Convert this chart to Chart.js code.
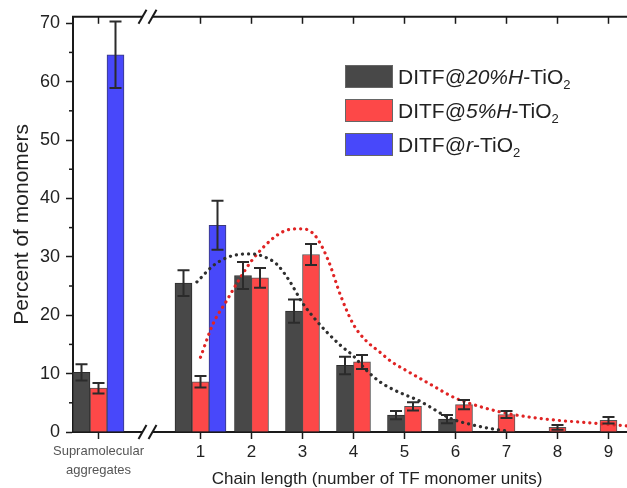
<!DOCTYPE html>
<html>
<head>
<meta charset="utf-8">
<script src="https://cdn.jsdelivr.net/npm/chart.js@4.4.0/dist/chart.umd.min.js"></script>
<style>
  html, body { margin: 0; padding: 0; background: #fff; overflow: hidden; }
  #wrap { position: relative; width: 634px; height: 488px; }
  #legend { position: absolute; left: 345px; top: 65px; font-family: "Liberation Sans", Arial, sans-serif; font-size: 21px; color: #222; }
  .row { display: flex; align-items: center; height: 23px; margin-bottom: 11px; white-space: nowrap; }
  .box { width: 46px; height: 21px; border: 1px solid #666; margin-right: 5px; }
  .row sub { font-size: 13px; vertical-align: -5px; line-height: 0; }
</style>
</head>
<body>
<div id="wrap">
  <canvas id="myChart" width="634" height="488"></canvas>
  <div id="legend"></div>
</div>
<script>
// categories on the x axis ('' is the axis break), placed at chain length -1, 0, 1 ... 9
const categories = [['Supramolecular', 'aggregates'], '', '1', '2', '3', '4', '5', '6', '7', '8', '9'];

// bar heights (percent of monomers) and error bars
const h20 = [10.2, null, 25.5, 26.8, 20.7, 11.4, 2.9, 2.2, null, null, null];
const h20Err = [1.4, null, 2.2, 2.3, 2.0, 1.5, 0.7, 0.7, null, null, null];
const h5 = [7.5, null, 8.6, 26.4, 30.4, 12.0, 4.4, 4.7, 3.0, 0.8, 2.0];
const h5Err = [0.9, null, 1.0, 1.7, 1.8, 1.2, 0.7, 0.8, 0.6, 0.4, 0.55];
const rTi = [64.6, null, 35.4, null, null, null, null, null, null, null, null];
const rTiErr = [5.7, null, 4.2, null, null, null, null, null, null, null, null];

// dotted fit curves (chain length -> percent)
const fitX20 = [0.93, 1.25, 1.5, 1.75, 2, 2.25, 2.5, 2.75, 3, 3.25, 3.5, 3.75, 4, 4.25, 4.5, 4.75, 5, 5.25, 5.5, 5.75, 6, 6.25, 6.5, 6.75, 7];
const fitY20 = [25.7, 28.5, 29.8, 30.4, 30.5, 30.0, 28.7, 25.8, 22.1, 19.3, 16.9, 14.8, 13.0, 10.6, 8.7, 7.4, 6.4, 5.5, 4.3, 3.0, 2.0, 1.4, 0.9, 0.5, 0.2];
const fitX5 = [1, 1.25, 1.5, 1.75, 2, 2.25, 2.5, 2.75, 3, 3.25, 3.5, 3.75, 4, 4.25, 4.5, 4.75, 5, 5.5, 6, 6.5, 7, 7.5, 8, 8.5, 9, 9.5];
const fitY5 = [12.8, 18.6, 22.3, 26.0, 29.3, 31.8, 33.7, 34.7, 34.8, 33.6, 29.5, 23.3, 18.4, 15.6, 13.8, 12.0, 10.7, 8.2, 5.8, 4.3, 3.2, 2.5, 2.0, 1.65, 1.3, 0.95];

const seriesNames = ['DITF@20%H-TiO2', 'DITF@5%H-TiO2', 'DITF@r-TiO2'];
const legendParts = [['DITF@', '20%H', '-TiO', '2'], ['DITF@', '5%H', '-TiO', '2'], ['DITF@', 'r', '-TiO', '2']];
const barColors = ['#484848', '#fd4848', '#4848fa'];
const yTitle = 'Percent of monomers';
const xTitle = 'Chain length (number of TF monomer units)';

const errors = [h20Err, h5Err, rTiErr];
const FONT = '"Liberation Sans", Arial, sans-serif';
const AXIS = '#1a1a1a';
const BREAK = categories.indexOf('') - 1;

function pts(xs, ys) {
    return xs.map((v, i) => ({ x: v, y: ys[i] }));
}
function bars(vals) {
    return vals.map((v, i) => ({ x: i - 1, y: v }));
}

// legend with italics and subscripts
const legend = document.getElementById('legend');
legendParts.forEach((p, i) => {
    const row = document.createElement('div');
    row.className = 'row';
    row.innerHTML = '<span class="box" style="background:' + barColors[i] + '"></span>' +
        '<span>' + p[0] + '<i>' + p[1] + '</i>' + p[2] + '<sub>' + p[3] + '</sub></span>';
    legend.appendChild(row);
});

const errorBars = {
    id: 'errorBars',
    afterDatasetsDraw(chart) {
        const { ctx, scales: { y } } = chart;
        ctx.save();
        ctx.strokeStyle = '#2b2b2b';
        ctx.lineWidth = 2;
        errors.forEach((errs, di) => {
            const meta = chart.getDatasetMeta(di);
            const vals = chart.data.datasets[di].data;
            errs.forEach((e, i) => {
                if (vals[i].y == null || e == null) return;
                const bx = meta.data[i].x;
                const t = y.getPixelForValue(vals[i].y + e);
                const b = y.getPixelForValue(vals[i].y - e);
                ctx.beginPath();
                ctx.moveTo(bx, t); ctx.lineTo(bx, b);
                ctx.moveTo(bx - 6, t); ctx.lineTo(bx + 6, t);
                ctx.moveTo(bx - 6, b); ctx.lineTo(bx + 6, b);
                ctx.stroke();
            });
        });
        ctx.restore();
    }
};

const frame = {
    id: 'frame',
    afterDraw(chart) {
        const { ctx, chartArea: a, scales: { x, y } } = chart;
        ctx.save();
        ctx.strokeStyle = AXIS;
        ctx.lineWidth = 2;
        ctx.beginPath();
        ctx.moveTo(a.left - 1, a.top);
        ctx.lineTo(a.right, a.top);
        ctx.stroke();
        ctx.lineWidth = 1.5;
        x.ticks.forEach(t => {
            if (t.value === BREAK) return;
            const px = x.getPixelForValue(t.value);
            ctx.beginPath();
            ctx.moveTo(px, a.top);
            ctx.lineTo(px, a.top + 7);
            ctx.stroke();
        });
        // minor ticks on the y axis
        y.ticks.forEach(t => {
            if (t.value % 10 === 0) return;
            const py = y.getPixelForValue(t.value);
            ctx.beginPath();
            ctx.moveTo(a.left - 4, py);
            ctx.lineTo(a.left, py);
            ctx.stroke();
        });
        // axis breaks
        const bx = x.getPixelForValue(BREAK) - 2;
        [a.top, a.bottom].forEach(py => {
            ctx.fillStyle = '#fff';
            ctx.fillRect(bx - 5, py - 2, 10, 4);
            ctx.lineWidth = 2;
            [-5, 5].forEach(d => {
                ctx.beginPath();
                ctx.moveTo(bx + d - 4, py + 7);
                ctx.lineTo(bx + d + 4, py - 7);
                ctx.stroke();
            });
        });
        ctx.fillStyle = '#222';
        ctx.font = '17px ' + FONT;
        ctx.textAlign = 'center';
        ctx.textBaseline = 'alphabetic';
        ctx.fillText(xTitle, 377, 484);
        ctx.restore();
    }
};

const data = {
    datasets: [
        { label: seriesNames[0], data: bars(h20), backgroundColor: barColors[0], borderColor: '#2e2e2e', borderWidth: 1 },
        { label: seriesNames[1], data: bars(h5), backgroundColor: barColors[1], borderColor: '#555', borderWidth: 1 },
        { label: seriesNames[2], data: bars(rTi), backgroundColor: barColors[2], borderColor: '#3a3a7a', borderWidth: 1 },
        {
            type: 'line', label: 'fit 20%', data: pts(fitX20, fitY20), order: -1,
            borderColor: '#2f2f2f', borderWidth: 3.2, borderDash: [0.1, 6], borderCapStyle: 'round',
            pointRadius: 0, cubicInterpolationMode: 'monotone', fill: false
        },
        {
            type: 'line', label: 'fit 5%', data: pts(fitX5, fitY5), order: -1,
            borderColor: '#e02424', borderWidth: 3.2, borderDash: [0.1, 6], borderCapStyle: 'round',
            pointRadius: 0, cubicInterpolationMode: 'monotone', fill: false
        }
    ]
};

const config = {
    type: 'bar',
    data: data,
    options: {
        responsive: false,
        animation: false,
        devicePixelRatio: 1,
        layout: { padding: { top: 16, right: 0, left: 0, bottom: 0 } },
        datasets: { bar: { skipNull: true, barThickness: 17 } },
        plugins: { legend: { display: false }, tooltip: { enabled: false } },
        scales: {
            x: {
                type: 'linear',
                min: -1.5, max: 9.5,
                offset: false,
                border: { color: AXIS, width: 2 },
                grid: {
                    offset: false, drawOnChartArea: false, tickLength: 7, tickWidth: 1.5,
                    tickColor: c => c.tick && c.tick.value === BREAK ? 'rgba(0,0,0,0)' : AXIS
                },
                afterBuildTicks: s => { s.ticks = categories.map((c, i) => ({ value: i - 1 })); },
                ticks: {
                    autoSkip: false, maxRotation: 0, padding: 3,
                    callback: v => categories[v + 1],
                    color: c => c.index === 0 ? '#555' : '#222',
                    font: c => c.index === 0 ? { family: FONT, size: 13, lineHeight: 1.45 } : { family: FONT, size: 17 }
                },
                afterFit: s => { s.height = 56; }
            },
            y: {
                min: 0, max: 71.1,
                border: { color: AXIS, width: 2 },
                grid: {
                    drawOnChartArea: false, tickLength: 7, tickWidth: 1.5,
                    tickColor: c => c.tick && c.tick.value % 10 === 0 ? AXIS : 'rgba(0,0,0,0)'
                },
                ticks: {
                    stepSize: 5, includeBounds: false, padding: 6, color: '#222',
                    font: { family: FONT, size: 18 },
                    callback: v => v % 10 === 0 ? v : ''
                },
                title: {
                    display: true, text: yTitle, color: '#222',
                    font: { family: FONT, size: 21 }, padding: { top: 10, bottom: 0 }
                },
                afterFit: s => { s.width = 73; }
            }
        }
    },
    plugins: [errorBars, frame]
};

const myChart = new Chart(document.getElementById('myChart'), config);
</script>
</body>
</html>
